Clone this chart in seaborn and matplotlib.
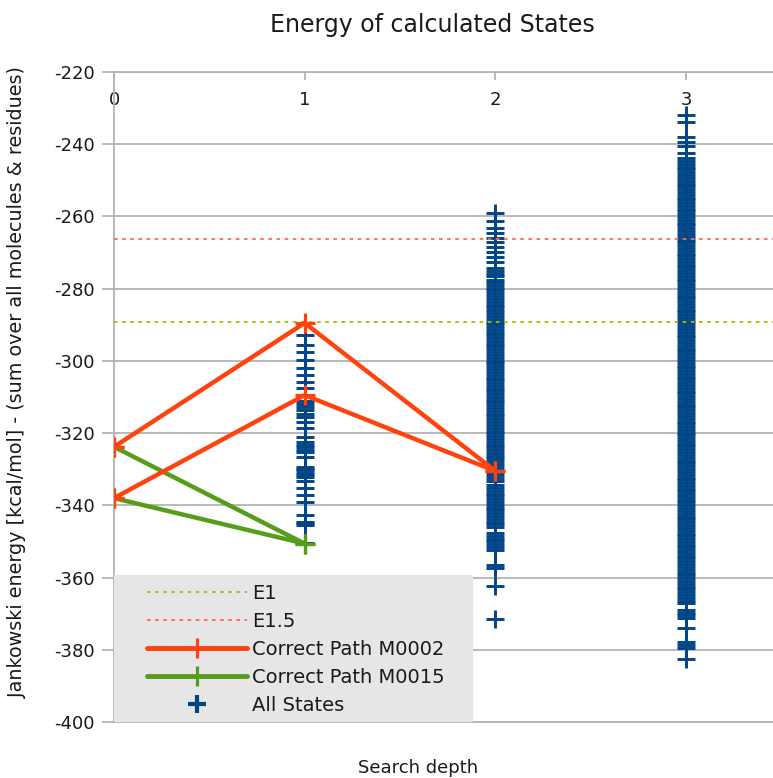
import matplotlib
matplotlib.use("Agg")
import matplotlib.pyplot as plt
import numpy as np
import pandas as pd
import seaborn as sns
from matplotlib.lines import Line2D
from matplotlib.patches import Rectangle

# ---------------- data ----------------
depth1_energy = [-289.6, -292.8, -295.6, -297.5, -299.8, -302.1, -303.9, -305.8, -307.6,
                 -309.4, -311.2, -311.9, -312.7, -313.6, -314.8, -315.5, -316.8, -318.7,
                 -321.0, -322.4, -323.2, -323.8, -324.7, -325.1, -326.5, -329.3, -329.8,
                 -330.2, -331.1, -331.6, -332.1, -333.4, -335.3, -337.1, -339.0, -342.7,
                 -344.5, -345.0, -345.4, -350.5]

depth2_energy = [-259.0, -261.4, -263.3, -264.7, -266.1, -267.0, -268.4, -269.8, -271.1, -272.5,
                 -274.4, -275.1, -275.9, -276.6, -277.5, -278.2, -279.0, -279.8, -280.5, -281.3,
                 -282.1, -282.9, -283.6, -284.4, -285.2, -286.0, -286.7, -287.5, -288.3, -289.1,
                 -289.8, -290.6, -291.4, -292.2, -292.9, -293.7, -294.5, -295.3, -296.0, -296.8,
                 -297.6, -298.4, -299.1, -299.9, -300.7, -301.5, -302.2, -303.0, -303.8, -304.6,
                 -305.3, -306.1, -306.9, -307.7, -308.4, -309.2, -310.0, -310.8, -311.5, -312.3,
                 -313.1, -313.9, -314.6, -315.4, -316.2, -317.0, -317.7, -318.5, -319.3, -320.1,
                 -320.8, -321.6, -322.4, -323.2, -323.9, -324.7, -325.5, -326.3, -327.0, -327.8,
                 -328.6, -329.4, -330.1, -330.9, -331.7, -332.5, -333.2, -334.4, -335.2, -336.0,
                 -336.8, -337.5, -338.3, -339.1, -339.9, -340.6, -341.4, -342.2, -343.0, -343.7,
                 -344.5, -345.3, -345.9, -347.6, -348.4, -349.2, -350.0, -350.8, -351.6, -352.4,
                 -356.6, -357.4, -362.3, -371.6]

depth3_energy = [-232.0, -233.8, -237.9, -239.3, -240.6, -242.5,
                 -243.9, -244.7, -245.5, -246.2, -247.0, -247.8, -248.6, -249.3, -250.1, -250.9,
                 -251.7, -252.4, -253.2, -254.0, -254.8, -255.5, -256.3, -257.1, -257.9, -258.6,
                 -259.4, -260.2, -261.0, -261.7, -262.5, -263.3, -264.1, -264.8, -265.6, -266.4,
                 -267.2, -267.9, -268.7, -269.5, -270.3, -271.0, -271.8, -272.6, -273.4, -274.1,
                 -274.9, -275.7, -276.5, -277.2, -278.0, -278.8, -279.6, -280.3, -281.1, -281.9,
                 -282.7, -283.4, -284.2, -285.0, -285.8, -286.5, -287.3, -288.1, -288.9, -289.6,
                 -290.4, -291.2, -292.0, -292.7, -293.5, -294.3, -295.1, -295.8, -296.6, -297.4,
                 -298.2, -298.9, -299.7, -300.5, -301.3, -302.0, -302.8, -303.6, -304.4, -305.1,
                 -305.9, -306.7, -307.5, -308.2, -309.0, -309.8, -310.6, -311.3, -312.1, -312.9,
                 -313.7, -314.4, -315.2, -316.0, -316.8, -317.5, -318.3, -319.1, -319.9, -320.6,
                 -321.4, -322.2, -323.0, -323.7, -324.5, -325.3, -326.1, -326.8, -327.6, -328.4,
                 -329.2, -329.9, -330.7, -331.5, -332.3, -333.0, -333.8, -334.6, -335.4, -336.1,
                 -336.9, -337.7, -338.5, -339.2, -340.0, -340.8, -341.6, -342.3, -343.1, -343.9,
                 -344.7, -345.4, -346.2, -347.0, -347.8, -348.5, -349.3, -350.1, -350.9, -351.6,
                 -352.4, -353.2, -354.0, -354.7, -355.5, -356.3, -357.1, -357.8, -358.6, -359.4,
                 -360.2, -360.9, -361.7, -362.5, -363.3, -364.0, -364.8, -365.6, -366.4, -367.1,
                 -368.9, -369.7, -370.5, -371.2, -374.0, -377.8, -378.6, -379.4, -382.6]

m0002_depth = [0, 1, 2, 0, 1, 2]
m0002_energy = [-323.8, -289.5, -330.5, -338.0, -309.5, -330.5]
m0002_branch = ["a", "a", "a", "b", "b", "b"]

m0015_depth = [0, 1, 0, 1]
m0015_energy = [-323.8, -350.6, -338.0, -350.6]
m0015_branch = ["a", "a", "b", "b"]

e1_level = -289.2
e15_level = -266.3

x_ticks = [0, 1, 2, 3]
y_ticks = [-400, -380, -360, -340, -320, -300, -280, -260, -240, -220]

# colours
c_blue = "#004586"
c_orange = "#ff420e"
c_green = "#579d1c"
c_e1 = "#b5b800"
c_e15 = "#ff6a45"
c_grid = "#b3b3b3"
c_text = "#1a1a1a"

# ---------------- figure ----------------
sns.set_theme(style="white")
plt.rcParams["font.family"] = ["DejaVu Sans"]
plt.rcParams["axes.unicode_minus"] = False

fig = plt.figure(figsize=(7.73, 7.78), dpi=100)
ax = fig.add_axes([114 / 773, 56 / 778, 659 / 773, 650 / 778])

states = pd.DataFrame({
    "depth": [1] * len(depth1_energy) + [2] * len(depth2_energy) + [3] * len(depth3_energy),
    "energy": depth1_energy + depth2_energy + depth3_energy,
})
sns.scatterplot(data=states, x="depth", y="energy", marker="+", s=150, color=c_blue,
                linewidth=2.1, ax=ax, zorder=3, legend=False)

ax.axhline(e1_level, color=c_e1, lw=1.3, ls=(0, (2, 2.5)), zorder=4)
ax.axhline(e15_level, color=c_e15, lw=1.3, ls=(0, (2, 2.5)), zorder=4)

df2 = pd.DataFrame({"depth": m0002_depth, "energy": m0002_energy, "branch": m0002_branch})
df15 = pd.DataFrame({"depth": m0015_depth, "energy": m0015_energy, "branch": m0015_branch})
for df, col in ((df15, c_green), (df2, c_orange)):
    sns.lineplot(data=df, x="depth", y="energy", units="branch", estimator=None, sort=False,
                 color=col, lw=3.2, marker="+", markersize=15, mew=2.3, mec=col,
                 ax=ax, legend=False, zorder=5)

ax.set_xlim(0, 3.456)
ax.set_ylim(-400, -220)
ax.set_xticks(x_ticks)
ax.set_xticklabels([str(t) for t in x_ticks])
ax.set_yticks(y_ticks)
ax.set_yticklabels([str(t) for t in y_ticks])
ax.set_xlabel("")
ax.set_ylabel("")

ax.set_axisbelow(True)
ax.yaxis.grid(True, color=c_grid, lw=1.3)
ax.xaxis.grid(False)
for side in ("left", "top", "bottom"):
    ax.spines[side].set_visible(True)
    ax.spines[side].set_color(c_grid)
    ax.spines[side].set_linewidth(1.3)
ax.spines["right"].set_visible(False)

ax.tick_params(axis="y", left=True, length=9, width=1.3, color=c_grid, pad=5,
               labelsize=13, labelcolor=c_text)
ax.tick_params(axis="x", bottom=False, top=True, labelbottom=False, labeltop=True,
               direction="in", length=6, width=1.3, color=c_grid, pad=-27,
               labelsize=13, labelcolor=c_text)

# legend
ax.add_patch(Rectangle((0, 0), 0.545, 0.226, transform=ax.transAxes,
                       facecolor="#e6e6e6", edgecolor="none", zorder=6))
handles = [
    Line2D([], [], color=c_e1, lw=1.3, ls=(0, (2, 2.5))),
    Line2D([], [], color=c_e15, lw=1.3, ls=(0, (2, 2.5))),
    Line2D([], [], color=c_orange, lw=3.5, marker="+", ms=15, mew=2.3),
    Line2D([], [], color=c_green, lw=3.5, marker="+", ms=15, mew=2.3),
    Line2D([], [], color=c_blue, ls="none", marker="+", ms=13, mew=3.0),
]
labels = ["E1", "E1.5", "Correct Path M0002", "Correct Path M0015", "All States"]
leg = ax.legend(handles, labels, loc="upper left", bbox_to_anchor=(0.050, 0.213),
                frameon=False, borderpad=0, handlelength=5.15, handletextpad=0.26,
                labelspacing=0.47, fontsize=14, borderaxespad=0)
for t in leg.get_texts():
    t.set_color(c_text)
leg.set_zorder(7)

fig.text(432 / 773, 1 - 25 / 778, "Energy of calculated States", fontsize=17,
         ha="center", va="center", color=c_text)
fig.text(418 / 773, 1 - 768 / 778, "Search depth", fontsize=13,
         ha="center", va="center", color=c_text)
fig.text(18 / 773, 1 - 382 / 778,
         "Jankowski energy [kcal/mol] - (sum over all molecules & residues)",
         fontsize=13.8, rotation=90, ha="center", va="center", color=c_text)

fig.savefig("out.png", dpi=100)
